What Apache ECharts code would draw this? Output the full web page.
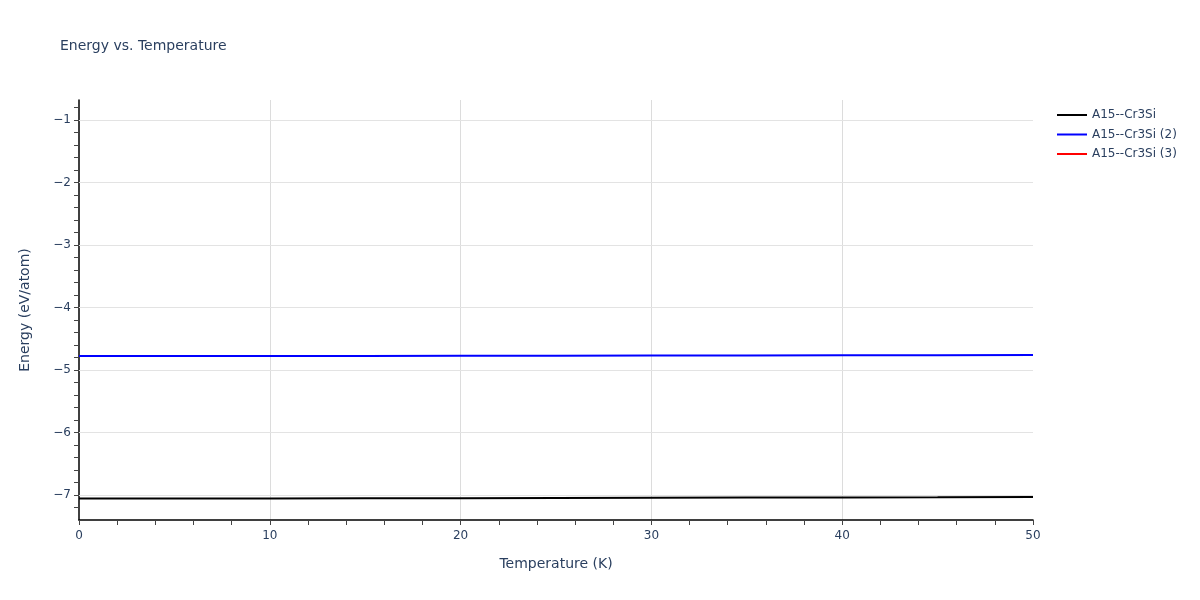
<!DOCTYPE html>
<html>
<head>
<meta charset="utf-8">
<script src="https://cdn.jsdelivr.net/npm/echarts@6/dist/echarts.min.js"></script>
<style>html,body{margin:0;padding:0;background:#fff;}#c{width:1200px;height:600px;}</style>
</head>
<body>
<div id="c"></div>
<script>
const temperatures = [0, 5, 10, 15, 20, 25, 30, 35, 40, 45, 50];
const energyBlack = [-7.055, -7.055, -7.054, -7.052, -7.050, -7.047, -7.044, -7.041, -7.038, -7.035, -7.031];
const energyBlue = [-4.776, -4.776, -4.775, -4.774, -4.773, -4.771, -4.769, -4.767, -4.765, -4.763, -4.760];
const energyRed = [];
const seriesNames = ['A15--Cr3Si', 'A15--Cr3Si (2)', 'A15--Cr3Si (3)'];
const yGridValues = [-7, -6, -5, -4, -3, -2, -1];

const FONT = '"DejaVu Sans", Verdana, sans-serif';
const TXT = '#2a3f5f';

function pairs(xs, ys) { return ys.map((v, i) => [xs[i], v]); }

const chart = echarts.init(document.getElementById('c'));
chart.setOption({
  animation: false,
  backgroundColor: '#fff',
  textStyle: { fontFamily: FONT },
  title: {
    text: 'Energy vs. Temperature',
    left: 60, top: 39, padding: 0,
    textStyle: { fontFamily: FONT, fontSize: 14, fontWeight: 'normal', color: TXT }
  },
  legend: {
    data: seriesNames,
    orient: 'vertical',
    left: 1057, top: 109, padding: 0,
    icon: 'rect',
    itemWidth: 30, itemHeight: 2,
    itemGap: 7.5,
    textStyle: { fontFamily: FONT, fontSize: 12, color: TXT }
  },
  grid: { left: 79, right: 167, top: 100, bottom: 80, containLabel: false },
  xAxis: {
    type: 'value',
    min: 0, max: 50, interval: 10,
    name: 'Temperature (K)',
    nameLocation: 'middle', nameGap: 37,
    nameTextStyle: { fontFamily: FONT, fontSize: 14, color: TXT },
    axisLine: { show: true, lineStyle: { color: '#000', width: 1.5 } },
    axisTick: { show: true, length: 5, lineStyle: { color: '#444' } },
    minorTick: { show: true, splitNumber: 5, length: 5, lineStyle: { color: '#444' } },
    axisLabel: { fontFamily: FONT, fontSize: 12, color: TXT, margin: 10 },
    splitLine: { show: true, showMinLine: false, showMaxLine: false, lineStyle: { color: '#dcdcdc', width: 1 } }
  },
  yAxis: {
    type: 'value',
    min: -7.4, max: -0.68, interval: 0.2,
    name: 'Energy (eV/atom)',
    nameLocation: 'middle', nameGap: 47,
    nameTextStyle: { fontFamily: FONT, fontSize: 14, color: TXT },
    axisLine: { show: true, onZero: false, lineStyle: { color: '#000', width: 1.5 } },
    axisTick: { show: true, length: 5, lineStyle: { color: '#444' } },
    axisLabel: {
      fontFamily: FONT, fontSize: 12, color: TXT, margin: 8,
      showMinLabel: false, showMaxLabel: false,
      formatter: function (v) {
        const r = Math.round(v);
        if (Math.abs(v - r) > 1e-6) return '';
        return (r < 0 ? '\u2212' : '') + Math.abs(r);
      }
    },
    splitLine: { show: false }
  },
  series: [
    {
      name: '__grid',
      type: 'line',
      data: [],
      z: 1,
      silent: true,
      markLine: {
        silent: true,
        symbol: ['none', 'none'],
        label: { show: false },
        lineStyle: { color: '#e3e3e3', width: 1, type: 'solid' },
        emphasis: { disabled: true },
        data: yGridValues.map(v => ({ yAxis: v }))
      }
    },
    {
      name: seriesNames[0], type: 'line', data: pairs(temperatures, energyBlack),
      showSymbol: false, symbol: 'none', z: 3,
      lineStyle: { color: '#000000', width: 2 }, itemStyle: { color: '#000000' }
    },
    {
      name: seriesNames[1], type: 'line', data: pairs(temperatures, energyBlue),
      showSymbol: false, symbol: 'none', z: 3,
      lineStyle: { color: '#0000ff', width: 2 }, itemStyle: { color: '#0000ff' }
    },
    {
      name: seriesNames[2], type: 'line', data: energyRed,
      showSymbol: false, symbol: 'none', z: 3,
      lineStyle: { color: '#ff0000', width: 2 }, itemStyle: { color: '#ff0000' }
    }
  ]
});
</script>
</body>
</html>
